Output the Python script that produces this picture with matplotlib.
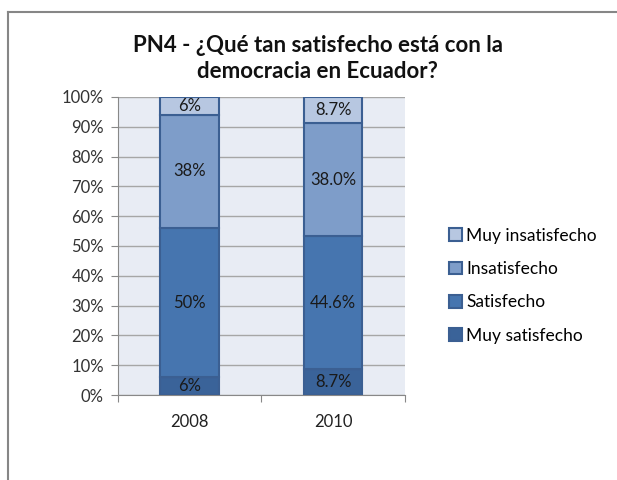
import numpy as np
import matplotlib.pyplot as plt
from matplotlib.lines import Line2D

# data
years = ['2008', '2010']
categories = ['Muy satisfecho', 'Satisfecho', 'Insatisfecho', 'Muy insatisfecho']
muy_satisfecho = [6.0, 8.7]
satisfecho = [50.0, 44.6]
insatisfecho = [38.0, 38.0]
muy_insatisfecho = [6.0, 8.7]
labels_2008 = ['6%', '50%', '38%', '6%']
labels_2010 = ['8.7%', '44.6%', '38.0%', '8.7%']

colors = ['#3A6399', '#4675AF', '#7E9DC9', '#B7C7E1']
edge = '#3B5F92'

plt.rcParams['font.family'] = ['Lato', 'DejaVu Sans']

fig = plt.figure(figsize=(6.17, 4.8), dpi=100)
ax = fig.add_axes([0.191, 0.177, 0.465, 0.621])
ax.set_facecolor('#E8ECF4')

x = np.arange(len(years))
series = [muy_satisfecho, satisfecho, insatisfecho, muy_insatisfecho]
texts = [labels_2008, labels_2010]
bottom = np.zeros(len(years))
handles = []
for i, vals in enumerate(series):
    bars = ax.bar(x, vals, 0.406, bottom=bottom, color=colors[i],
                  edgecolor=edge, linewidth=1.5, label=categories[i], zorder=3)
    handles.append(bars)
    for j in range(len(years)):
        ax.text(x[j], bottom[j] + vals[j] / 2, texts[j][i], ha='center',
                va='center', fontsize=12, color='#1a1a1a', zorder=4)
    bottom += np.array(vals)

ax.set_xlim(-0.5, 1.5)
ax.set_ylim(0, 100)
ax.set_yticks(np.arange(0, 101, 10))
ax.set_yticklabels([f'{v}%' for v in range(0, 101, 10)], fontsize=12, color='#333333')
ax.yaxis.grid(True, color='#A6A6A6', linewidth=1, zorder=0)
ax.set_xticks([-0.5, 0.5, 1.5])
ax.set_xticklabels([])
ax.set_xticks(x, minor=True)
ax.set_xticklabels(years, minor=True, fontsize=12, color='#222222')
ax.tick_params(axis='x', which='major', length=5, color='#888888', direction='out')
ax.tick_params(axis='x', which='minor', length=0, pad=14)
ax.tick_params(axis='y', length=5, color='#888888', direction='out', pad=5)
for s in ['top', 'right']:
    ax.spines[s].set_visible(False)
for s in ['left', 'bottom']:
    ax.spines[s].set_color('#888888')

fig.text(0.515, 0.878, 'PN4 - ¿Qué tan satisfecho está con la\ndemocracia en Ecuador?',
         ha='center', va='center', fontsize=16, fontweight='bold',
         linespacing=1.25, color='#111111')

leg = fig.legend(handles[::-1], categories[::-1], loc='center left',
                 bbox_to_anchor=(0.713, 0.405), frameon=False, fontsize=12.5,
                 handlelength=0.75, handleheight=0.75, handletextpad=0.25,
                 labelspacing=1.0, borderpad=0)

# chart border (left and top only visible)
fig.add_artist(Line2D([8 / 617, 8 / 617], [0, 1 - 12 / 480], transform=fig.transFigure,
                      color='#868686', linewidth=1.5))
fig.add_artist(Line2D([8 / 617, 1], [1 - 12 / 480, 1 - 12 / 480], transform=fig.transFigure,
                      color='#868686', linewidth=1.5))

fig.savefig('out.png', dpi=100)
